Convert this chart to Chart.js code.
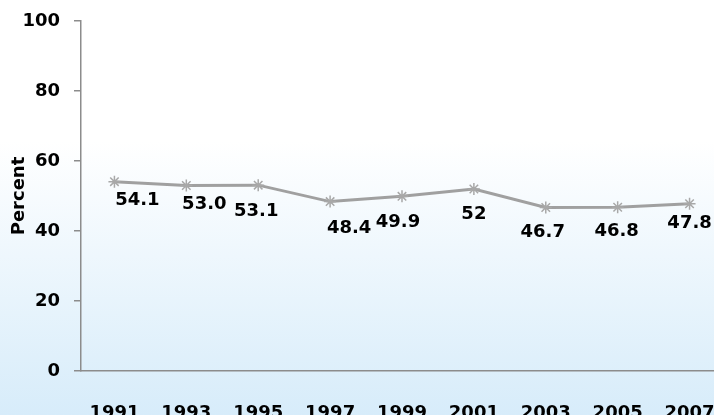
<!DOCTYPE html>
<html>
<head>
<meta charset="utf-8">
<script src="https://cdn.jsdelivr.net/npm/chart.js@4.4.1/dist/chart.umd.min.js"></script>
<style>
  html, body { margin: 0; padding: 0; }
  body {
    width: 714px; height: 415px; overflow: hidden;
    background: linear-gradient(to bottom, #ffffff 0%, #ffffff 34%, #d7ecfa 100%);
  }
  #chart { display: block; }
</style>
</head>
<body>
<canvas id="chart" width="714" height="415"></canvas>
<script>
// Survey years and the share (percent) reported for each
const years = [1991, 1993, 1995, 1997, 1999, 2001, 2003, 2005, 2007];
const percent = [54.1, 53.0, 53.1, 48.4, 49.9, 52, 46.7, 46.8, 47.8];
const percentText = ['54.1', '53.0', '53.1', '48.4', '49.9', '52', '46.7', '46.8', '47.8'];
const yTicks = [0, 20, 40, 60, 80, 100];

const AXIS_GREY = '#8c8c8c';
const FONT = 'DejaVu Sans';

// Value labels written under each point
const pointLabels = {
  id: 'pointLabels',
  afterDatasetsDraw(chart, args, opts) {
    const ctx = chart.ctx;
    const meta = chart.getDatasetMeta(0);
    ctx.save();
    ctx.font = `bold ${opts.size}px "${FONT}"`;
    ctx.fillStyle = '#000';
    ctx.textAlign = 'center';
    ctx.textBaseline = 'middle';
    meta.data.forEach((pt, i) => {
      const [dx, dy] = opts.offsets[i];
      ctx.fillText(percentText[i], pt.x + dx, pt.y + dy);
    });
    ctx.restore();
  }
};

new Chart(document.getElementById('chart'), {
  type: 'line',
  data: {
    datasets: [{
      label: 'Percent',
      data: years.map((yr, i) => ({ x: yr, y: percent[i] })),
      borderColor: '#a0a0a0',
      borderWidth: 3,
      tension: 0,
      pointStyle: 'star',
      pointRadius: 6,
      pointBorderWidth: 1.5,
      pointBorderColor: '#a8a8a8',
      pointBackgroundColor: '#a8a8a8'
    }]
  },
  options: {
    responsive: false,
    animation: false,
    devicePixelRatio: 1,
    layout: { autoPadding: false, padding: { top: 21, right: 0, bottom: 0, left: 0 } },
    plugins: {
      legend: { display: false },
      tooltip: { enabled: false },
      pointLabels: {
        size: 18,
        offsets: [[23, 19], [18, 19], [-2, 26], [19, 27], [-4, 26], [0, 25], [-3, 25], [-1, 24], [0, 20]]
      }
    },
    scales: {
      x: {
        type: 'linear',
        min: 1990.07,
        max: 2007.68,
        afterBuildTicks: s => { s.ticks = years.map(v => ({ value: v })); },
        afterFit: s => { s.height = 44; s.paddingLeft = 0; s.paddingRight = 0; },
        grid: { display: false },
        border: { display: true, color: AXIS_GREY, width: 1.5 },
        ticks: {
          autoSkip: false,
          maxRotation: 0,
          padding: 24,
          color: '#000',
          font: { family: FONT, size: 18, weight: 'bold' },
          callback: v => String(v)
        }
      },
      y: {
        min: 0,
        max: 100,
        afterBuildTicks: s => { s.ticks = yTicks.map(v => ({ value: v })); },
        afterFit: s => { s.width = 81; s.paddingTop = 0; s.paddingBottom = 0; },
        grid: {
          drawOnChartArea: false,
          drawTicks: true,
          tickLength: 7,
          color: AXIS_GREY,
          lineWidth: 1.5
        },
        border: { display: true, color: AXIS_GREY, width: 1.5 },
        ticks: {
          padding: 14,
          color: '#000',
          font: { family: FONT, size: 18, weight: 'bold' }
        },
        title: {
          display: true,
          text: 'Percent',
          color: '#000',
          font: { family: FONT, size: 18, weight: 'bold' },
          padding: { top: 9, bottom: 0 }
        }
      }
    }
  },
  plugins: [pointLabels]
});
</script>
</body>
</html>
